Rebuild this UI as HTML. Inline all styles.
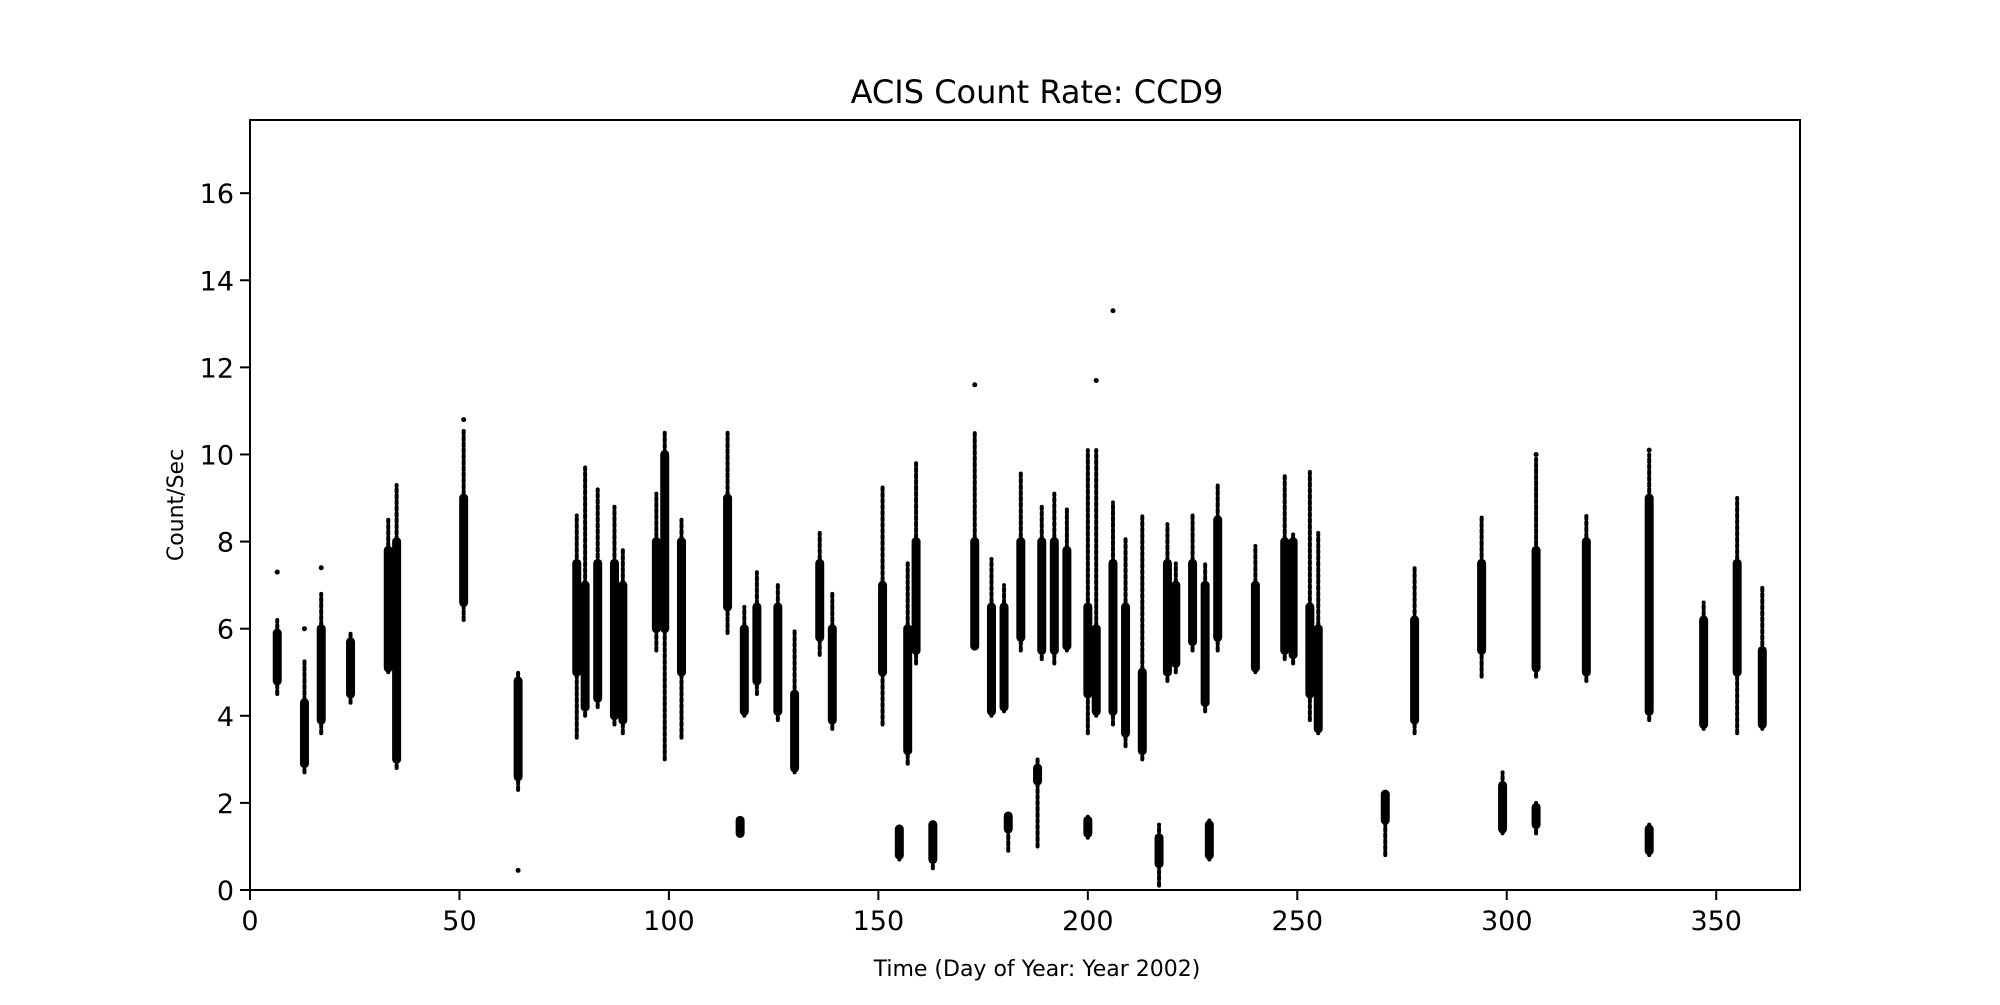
<!DOCTYPE html>
<html><head><meta charset="utf-8"><style>
body{margin:0;background:#fff}
svg text{font-family:"DejaVu Sans","Liberation Sans",sans-serif;fill:#000}
</style></head><body>
<svg id="chart" width="2000" height="1000" viewBox="0 0 2000 1000" xmlns="http://www.w3.org/2000/svg">
<rect width="2000" height="1000" fill="#fff"/>
<text x="1037" y="103" font-size="32" text-anchor="middle">ACIS Count Rate: CCD9</text>
<g id="marks"></g>
<g id="axes"></g>
<rect x="250" y="120" width="1550" height="770" fill="none" stroke="#000" stroke-width="2"/>
<text x="1037" y="976" font-size="22" text-anchor="middle">Time (Day of Year: Year 2002)</text>
<text transform="translate(183,505) rotate(-90)" font-size="22" text-anchor="middle">Count/Sec</text>
</svg>
<script>
const xTicks=[0,50,100,150,200,250,300,350];
const yTicks=[0,2,4,6,8,10,12,14,16];
const clusterDay=[6.5,13,17,24,33,35,51,64,78,80,83,87,89,97,99,103,114,117,118,121,126,130,136,139,151,155,157,159,163,173,177,180,181,184,188,189,192,195,200,200,202,206,209,213,217,219,221,225,228,229,231,240,247,249,253,255,271,278,294,299,307,307,319,334,334,347,355,361];
const clusterLo=[4.5,2.7,3.6,4.3,5.0,2.8,6.2,2.3,3.5,4.0,4.2,3.8,3.6,5.5,3.0,3.5,5.9,1.3,4.0,4.5,3.9,2.7,5.4,3.7,3.8,0.7,2.9,5.2,0.5,5.6,4.0,4.1,0.9,5.5,1.0,5.3,5.2,5.5,1.2,3.6,4.0,3.8,3.3,3.0,0.1,4.8,5.0,5.5,4.1,0.7,5.5,5.0,5.3,5.2,3.9,3.6,0.8,3.6,4.9,1.3,1.3,4.9,4.8,0.8,3.9,3.7,3.6,3.7];
const clusterHi=[6.2,5.3,6.8,5.9,8.5,9.3,10.6,5.0,8.6,9.7,9.2,8.8,7.8,9.1,10.5,8.5,10.5,1.6,6.5,7.3,7.0,6.0,8.2,6.8,9.3,1.5,7.5,9.8,1.6,10.5,7.6,7.0,1.7,9.6,3.0,8.8,9.1,8.8,1.7,10.1,10.1,8.9,8.1,8.6,1.5,8.4,7.5,8.6,7.5,1.6,9.3,7.9,9.5,8.2,9.6,8.2,2.2,7.4,8.6,2.7,2.0,9.9,8.6,1.5,10.0,6.6,9.0,7.0];
const denseLo=[4.8,2.9,3.9,4.5,5.1,3.0,6.6,2.6,5.0,4.2,4.4,4.0,3.9,6.0,6.0,5.0,6.5,1.3,4.1,4.8,4.1,2.8,5.8,3.9,5.0,0.8,3.2,5.5,0.7,5.6,4.1,4.2,1.4,5.8,2.5,5.5,5.5,5.6,1.3,4.5,4.1,4.1,3.6,3.2,0.6,5.0,5.2,5.7,4.3,0.8,5.8,5.1,5.5,5.4,4.5,3.7,1.6,3.9,5.5,1.4,1.5,5.1,5.0,0.9,4.1,3.8,5.0,3.8];
const denseHi=[5.9,4.3,6.0,5.7,7.8,8.0,9.0,4.8,7.5,7.0,7.5,7.5,7.0,8.0,10.0,8.0,9.0,1.6,6.0,6.5,6.5,4.5,7.5,6.0,7.0,1.4,6.0,8.0,1.5,8.0,6.5,6.5,1.7,8.0,2.8,8.0,8.0,7.8,1.6,6.5,6.0,7.5,6.5,5.0,1.2,7.5,7.0,7.5,7.0,1.5,8.5,7.0,8.0,8.0,6.5,6.0,2.2,6.2,7.5,2.4,1.9,7.8,8.0,1.4,9.0,6.2,7.5,5.5];
const outDay=[6.5,13,17,51,64,173,202,206,307,334];
const outVal=[7.3,6.0,7.4,10.8,0.45,11.6,11.7,13.3,10.0,10.1];
const X0=250,XW=1550,XMAX=370,Y0=890,YH=770,YMAX=17.68;
function sx(v){return X0+v/XMAX*XW;}
function sy(v){return Y0-v/YMAX*YH;}
const NS="http://www.w3.org/2000/svg";
const marks=document.getElementById('marks'),axes=document.getElementById('axes');
clusterDay.forEach((d,i)=>{
  const l=document.createElementNS(NS,'line');
  
  
  l.setAttribute('x1',sx(d));l.setAttribute('x2',sx(d));
  l.setAttribute('y1',sy(clusterLo[i]));l.setAttribute('y2',sy(clusterHi[i]));
  l.setAttribute('stroke','#000');l.setAttribute('stroke-width','4');l.setAttribute('stroke-linecap','round');
  l.setAttribute('stroke-dasharray','3 3');
  marks.appendChild(l);
  const c=document.createElementNS(NS,'line');
  
  
  c.setAttribute('x1',sx(d));c.setAttribute('x2',sx(d));
  c.setAttribute('y1',sy(denseLo[i]));c.setAttribute('y2',sy(denseHi[i]));
  c.setAttribute('stroke','#000');c.setAttribute('stroke-width','9');c.setAttribute('stroke-linecap','round');
  marks.appendChild(c);
});
outDay.forEach((d,i)=>{
  const c=document.createElementNS(NS,'circle');
  
  
  c.setAttribute('cx',sx(d));c.setAttribute('cy',sy(outVal[i]));c.setAttribute('r','2.5');
  marks.appendChild(c);
});
xTicks.forEach(t=>{
  const l=document.createElementNS(NS,'line');
  
  
  l.setAttribute('x1',sx(t));l.setAttribute('x2',sx(t));l.setAttribute('y1',Y0);l.setAttribute('y2',Y0+10);
  l.setAttribute('stroke','#000');l.setAttribute('stroke-width','2');
  axes.appendChild(l);
  const tx=document.createElementNS(NS,'text');
  
  
  tx.setAttribute('x',sx(t));tx.setAttribute('y',Y0+40);tx.setAttribute('font-size','27');tx.setAttribute('text-anchor','middle');
  tx.textContent=t;axes.appendChild(tx);
});
yTicks.forEach(t=>{
  const l=document.createElementNS(NS,'line');
  
  
  l.setAttribute('x1',X0-10);l.setAttribute('x2',X0);l.setAttribute('y1',sy(t));l.setAttribute('y2',sy(t));
  l.setAttribute('stroke','#000');l.setAttribute('stroke-width','2');
  axes.appendChild(l);
  const tx=document.createElementNS(NS,'text');
  
  
  tx.setAttribute('x',X0-16);tx.setAttribute('y',sy(t)+10);tx.setAttribute('font-size','27');tx.setAttribute('text-anchor','end');
  tx.textContent=t;axes.appendChild(tx);
});
</script>
</body></html>
